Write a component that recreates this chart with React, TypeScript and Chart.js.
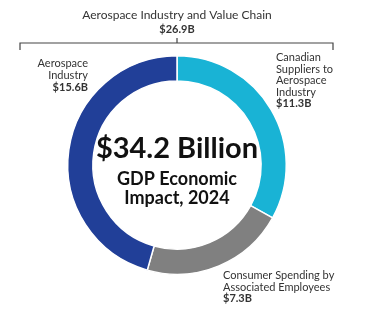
import React, { useEffect, useRef } from "react";
import { Chart, registerables } from "chart.js";

Chart.register(...registerables);

const categories = [
  "Canadian Suppliers to Aerospace Industry",
  "Consumer Spending by Associated Employees",
  "Aerospace Industry",
];
const values = [11.3, 7.3, 15.6];
const colors = ["#19b3d5", "#808080", "#213f98"];
const totalLabel = "$34.2 Billion";
const centerSub = ["GDP Economic", "Impact, 2024"];
const bracketTitle = "Aerospace Industry and Value Chain";
const bracketValue = "$26.9B";
const leftLabel = ["Aerospace", "Industry"];
const leftValue = "$15.6B";
const rightLabel = ["Canadian", "Suppliers to", "Aerospace", "Industry"];
const rightValue = "$11.3B";
const bottomLabel = ["Consumer Spending by", "Associated Employees"];
const bottomValue = "$7.3B";

const FONT = "Lato, 'Open Sans', sans-serif";

const annotations = {
  id: "annotations",
  afterDraw(chart: any) {
    const ctx = chart.ctx as CanvasRenderingContext2D;
    const meta = chart.getDatasetMeta(0);
    const arc = meta.data[0];
    const cx = arc.x;
    const cy = arc.y;
    ctx.save();
    // center text
    ctx.fillStyle = "#111";
    ctx.textAlign = "center";
    ctx.textBaseline = "alphabetic";
    ctx.font = `bold 29px ${FONT}`;
    ctx.fillText(totalLabel, cx, cy - 7);
    ctx.font = `bold 18px ${FONT}`;
    ctx.fillText(centerSub[0], cx, cy + 20);
    ctx.fillText(centerSub[1], cx, cy + 39);

    // bracket
    ctx.fillStyle = "#333";
    ctx.font = `12px ${FONT}`;
    ctx.fillText(bracketTitle, cx, 19);
    ctx.font = `bold 11px ${FONT}`;
    ctx.fillText(bracketValue, cx, 33);
    ctx.strokeStyle = "#444";
    ctx.lineWidth = 1.2;
    ctx.beginPath();
    ctx.moveTo(20, 50);
    ctx.lineTo(20, 43);
    ctx.lineTo(333, 43);
    ctx.lineTo(333, 50);
    ctx.moveTo(cx, 43);
    ctx.lineTo(cx, 38);
    ctx.stroke();

    // left label
    ctx.textAlign = "right";
    ctx.font = `11px ${FONT}`;
    ctx.fillText(leftLabel[0], 88, 67);
    ctx.fillText(leftLabel[1], 88, 79);
    ctx.font = `bold 11px ${FONT}`;
    ctx.fillText(leftValue, 88, 91);

    // right label
    ctx.textAlign = "left";
    ctx.font = `11px ${FONT}`;
    rightLabel.forEach((t, i) => ctx.fillText(t, 276, 61 + i * 11.5));
    ctx.font = `bold 11px ${FONT}`;
    ctx.fillText(rightValue, 276, 61 + rightLabel.length * 11.5);

    // bottom label
    ctx.font = `11px ${FONT}`;
    bottomLabel.forEach((t, i) => ctx.fillText(t, 223, 279 + i * 11.5));
    ctx.font = `bold 11px ${FONT}`;
    ctx.fillText(bottomValue, 223, 279 + bottomLabel.length * 11.5);
    ctx.restore();
  },
};

export default function App() {
  const ref = useRef<HTMLCanvasElement>(null);
  useEffect(() => {
    if (!ref.current) return;
    const chart = new Chart(ref.current, {
      type: "doughnut",
      data: {
        labels: categories,
        datasets: [
          {
            data: values,
            backgroundColor: colors,
            borderColor: "#ffffff",
            borderWidth: 1.5,
            hoverOffset: 0,
            offset: 0,
          },
        ],
      },
      options: {
        animation: false,
        responsive: false,
        maintainAspectRatio: false,
        cutout: "77%",
        layout: { padding: { left: 67, right: 87, top: 55, bottom: 44 } },
        plugins: { legend: { display: false }, tooltip: { enabled: false } },
      },
      plugins: [annotations],
    });
    return () => chart.destroy();
  }, []);
  return (
    <div style={{ position: "fixed", left: 0, top: 0, width: 374, height: 319, background: "#fff" }}>
      <canvas ref={ref} width={374} height={319} style={{ width: 374, height: 319 }} />
    </div>
  );
}
